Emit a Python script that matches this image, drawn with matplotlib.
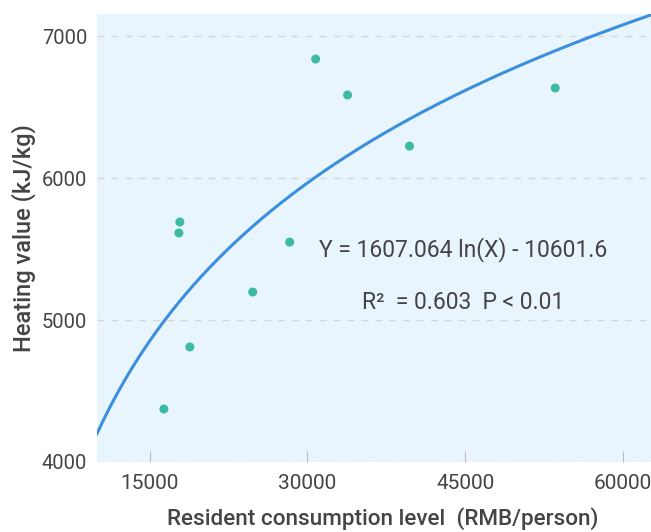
import numpy as np
import matplotlib.pyplot as plt

plt.rcParams['font.family'] = ['Roboto', 'DejaVu Sans']

# data
consumption = [16357, 18824, 17875, 17780, 24800, 28311, 30778, 33814, 39696, 53548]
heating_value = [4373, 4810, 5690, 5613, 5197, 5549, 6838, 6585, 6225, 6634]
x_ticks = [15000, 30000, 45000, 60000]
y_ticks = [4000, 5000, 6000, 7000]
fit_a = 1607.064
fit_b = -10601.6

text_col = '#444444'

fig = plt.figure(figsize=(6.51, 5.32), dpi=100)
ax = fig.add_axes([0.149, 0.1316, 0.851, 0.842])
ax.set_facecolor('#e9f5fd')

xs = np.linspace(10000, 62650, 300)
ax.plot(xs, fit_a * np.log(xs) + fit_b, color='#3b8fdd', lw=2.2, zorder=3)
ax.scatter(consumption, heating_value, s=42, color='#3dbaa4', zorder=4,
           edgecolors='none')

ax.set_xlim(10000, 62650)
ax.set_ylim(4000, 7155)
ax.set_xticks(x_ticks)
ax.set_yticks(y_ticks)
ax.tick_params(axis='x', direction='in', length=8, color='#bbbbbb',
               labelsize=15, labelcolor=text_col, pad=9)
ax.tick_params(axis='y', length=0, labelsize=14.5, labelcolor=text_col, pad=7)
for s in ax.spines.values():
    s.set_visible(False)
ax.yaxis.grid(True, ls=(0, (5, 5)), color='#d6d6d6', lw=1)
ax.set_axisbelow(True)

ax.set_xlabel('Resident consumption level  (RMB/person)', fontsize=16.2,
              color=text_col, fontweight='medium')
ax.xaxis.set_label_coords(0.516, -0.1)
ax.set_ylabel('Heating value (kJ/kg)', fontsize=17, color=text_col,
              fontweight='medium', labelpad=4)

ax.text(0.661, 0.475, 'Y = 1607.064 ln(X) - 10601.6', transform=ax.transAxes,
        ha='center', va='center', fontsize=16.5, color=text_col)
ax.text(0.661, 0.355, 'R²  = 0.603  P < 0.01', transform=ax.transAxes,
        ha='center', va='center', fontsize=16.5, color=text_col)

fig.savefig('out.png', dpi=100)
